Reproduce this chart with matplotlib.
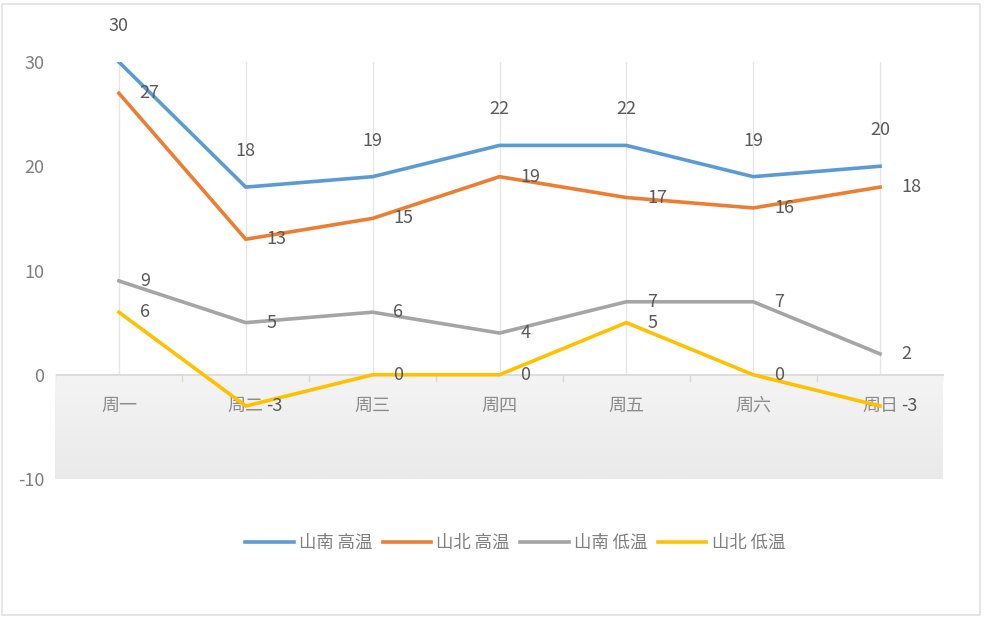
import matplotlib
matplotlib.use("Agg")
import matplotlib.pyplot as plt
import numpy as np

plt.rcParams['font.family'] = ['Noto Sans CJK SC', 'DejaVu Sans']

categories = ['周一', '周二', '周三', '周四', '周五', '周六', '周日']
series_names = ['山南 高温', '山北 高温', '山南 低温', '山北 低温']
south_high = [30, 18, 19, 22, 22, 19, 20]
north_high = [27, 13, 15, 19, 17, 16, 18]
south_low = [9, 5, 6, 4, 7, 7, 2]
north_low = [6, -3, 0, 0, 5, 0, -3]
y_ticks = [-10, 0, 10, 20, 30]

colors = ['#5B9BD5', '#ED7D31', '#A5A5A5', '#FFC000']
all_series = [south_high, north_high, south_low, north_low]

fig = plt.figure(figsize=(9.85, 6.17), dpi=100)
ax = fig.add_axes([55.5 / 985, 1 - 479 / 617, (943.5 - 55.5) / 985, (479 - 62) / 617])
x = np.arange(len(categories))
ax.set_xlim(-0.5, len(categories) - 0.5)
ax.set_ylim(-10, 30)

# shaded region below zero (gradient)
grad = np.linspace(0, 1, 100).reshape(-1, 1)
ax.imshow(grad, extent=(-0.5, len(categories) - 0.5, -10, 0), aspect='auto',
          cmap=matplotlib.colors.LinearSegmentedColormap.from_list('g', ['#f4f4f4', '#eaeaea']),
          origin='upper', zorder=0, clip_on=False)

# vertical gridlines at categories
for xi in x:
    ax.plot([xi, xi], [0, 30], color='#e6e6e6', lw=1, zorder=1)
# zero axis line
ax.axhline(0, color='#d9d9d9', lw=1.2, zorder=1)
for b in np.arange(-0.5, len(categories), 1.0):
    ax.plot([b, b], [0, -0.6], color='#d9d9d9', lw=1, zorder=1)

for vals, c, name in zip(all_series, colors, series_names):
    ax.plot(x, vals, color=c, lw=2.6, label=name, zorder=3, solid_joinstyle='miter')

label_color = '#595959'
for xi, v in zip(x, south_high):
    ax.annotate(str(v), (xi, v), xytext=(0, 26), textcoords='offset points',
                ha='center', va='center', fontsize=13, color=label_color, zorder=4)
for vals in all_series[1:]:
    for xi, v in zip(x, vals):
        ax.annotate(str(v), (xi, v), xytext=(15, 0), textcoords='offset points',
                    ha='left', va='center', fontsize=13, color=label_color, zorder=4)

for spine in ax.spines.values():
    spine.set_visible(False)
ax.set_xticks([])
ax.set_yticks(y_ticks)
ax.set_yticklabels([str(t) for t in y_ticks], fontsize=13, color='#7f7f7f')
ax.tick_params(axis='y', length=0, pad=8)

for xi, cat in zip(x, categories):
    ax.text(xi, -3, cat, ha='center', va='center', fontsize=13, color='#8c8c8c', zorder=2)

ax.legend(loc='center', bbox_to_anchor=(515 / 985, 1 - 543 / 617), bbox_transform=fig.transFigure,
          ncol=4, frameon=False, fontsize=12.5, handlelength=2.8, columnspacing=0.6,
          handletextpad=0.3, labelcolor='#7f7f7f')

# faint outer border of the chart
fig.patches.append(matplotlib.patches.Rectangle((0.002, 0.004), 0.993, 0.99, transform=fig.transFigure,
                                                fill=False, edgecolor='#e2e2e2', lw=1.2))

fig.savefig('out.png', dpi=100, facecolor='white')
